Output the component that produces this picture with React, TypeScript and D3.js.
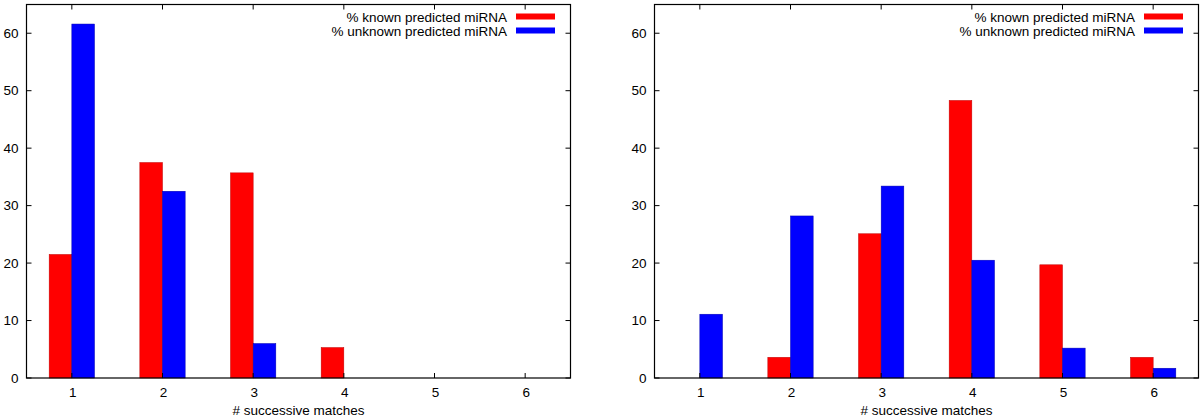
import React, { useRef, useEffect } from 'react';
import * as d3 from 'd3';

const categories = ['1', '2', '3', '4', '5', '6'];
const yTicks = [0, 10, 20, 30, 40, 50, 60];
const seriesNames = ['% known predicted miRNA', '% unknown predicted miRNA'];
const seriesColors = ['#ff0000', '#0000ff'];

// left panel
const leftKnown = [21.5, 37.5, 35.7, 5.3, 0, 0];
const leftUnknown = [61.6, 32.5, 6.0, 0, 0, 0];
// right panel
const rightKnown = [0, 3.6, 25.1, 48.3, 19.7, 3.6];
const rightUnknown = [11.1, 28.2, 33.4, 20.5, 5.2, 1.7];

const W = 1200;
const H = 419;
const FONT = '"Liberation Sans", Arial, Helvetica, sans-serif';

const App = () => {
  const ref = useRef<SVGSVGElement>(null);

  useEffect(() => {
    const svg = d3.select(ref.current);
    svg.selectAll('*').remove();

    const panels = [
      { left: 26.5, right: 570.5, data: [leftKnown, leftUnknown] },
      { left: 654.5, right: 1198.5, data: [rightKnown, rightUnknown] },
    ];
    const top = 4.5;
    const bottom = 378;

    panels.forEach(p => {
      const g = svg.append('g');
      const x = d3.scaleLinear().domain([-0.5, categories.length - 0.5]).range([p.left, p.right]);
      const y = d3.scaleLinear().domain([0, 65]).range([bottom, top]);

      // bars (clustered, gap 2 -> each box 1/4 of a slot)
      p.data.forEach((vals, j) => {
        const pts = vals.map((v, i) => ({ v, i })).filter(d => d.v > 0);
        g.selectAll(null)
          .data(pts)
          .enter()
          .append('rect')
          .attr('x', d => x(d.i - 0.25 + j * 0.25))
          .attr('width', x(0.25) - x(0))
          .attr('y', d => y(d.v))
          .attr('height', d => y(0) - y(d.v))
          .attr('fill', seriesColors[j])
          .attr('stroke', j === 0 ? '#c00000' : '#0000b0')
          .attr('stroke-width', 0.5);
      });

      const tickLen = 5;
      // y ticks left + right mirror
      yTicks.forEach(t => {
        g.append('line').attr('x1', p.left).attr('x2', p.left + tickLen)
          .attr('y1', y(t)).attr('y2', y(t)).attr('stroke', '#000');
        g.append('line').attr('x1', p.right).attr('x2', p.right - tickLen)
          .attr('y1', y(t)).attr('y2', y(t)).attr('stroke', '#000');
        g.append('text').attr('x', p.left - 8).attr('y', y(t) + 4.5)
          .attr('text-anchor', 'end').style('font-family', FONT).style('font-size', '13.5px')
          .text(t);
      });

      // x ticks bottom + top mirror
      categories.forEach((c, i) => {
        g.append('line').attr('x1', x(i)).attr('x2', x(i))
          .attr('y1', bottom).attr('y2', bottom - tickLen).attr('stroke', '#000');
        g.append('line').attr('x1', x(i)).attr('x2', x(i))
          .attr('y1', top).attr('y2', top + tickLen).attr('stroke', '#000');
        g.append('text').attr('x', x(i) + 1).attr('y', 397)
          .attr('text-anchor', 'middle').style('font-family', FONT).style('font-size', '13.5px')
          .text(c);
      });

      // frame
      g.append('rect').attr('x', p.left).attr('y', top)
        .attr('width', p.right - p.left).attr('height', bottom - top)
        .attr('fill', 'none').attr('stroke', '#000').attr('stroke-width', 1.2);

      // x label
      g.append('text').attr('x', (p.left + p.right) / 2).attr('y', 415)
        .attr('text-anchor', 'middle').style('font-family', FONT).style('font-size', '13.5px')
        .text('# successive matches');

      // legend
      const swR = p.right - 15.5;
      seriesNames.forEach((name, j) => {
        const cy = 16.5 + j * 14;
        g.append('text').attr('x', swR - 48).attr('y', cy + 5)
          .attr('text-anchor', 'end').style('font-family', FONT).style('font-size', '13.5px')
          .text(name);
        g.append('rect').attr('x', swR - 39).attr('y', cy - 3)
          .attr('width', 39).attr('height', 6).attr('fill', seriesColors[j]);
      });
    });
  }, []);

  return (
    <svg ref={ref} width={W} height={H}
      style={{ position: 'absolute', left: 0, top: 0, background: '#fff' }} />
  );
};

export default App;
